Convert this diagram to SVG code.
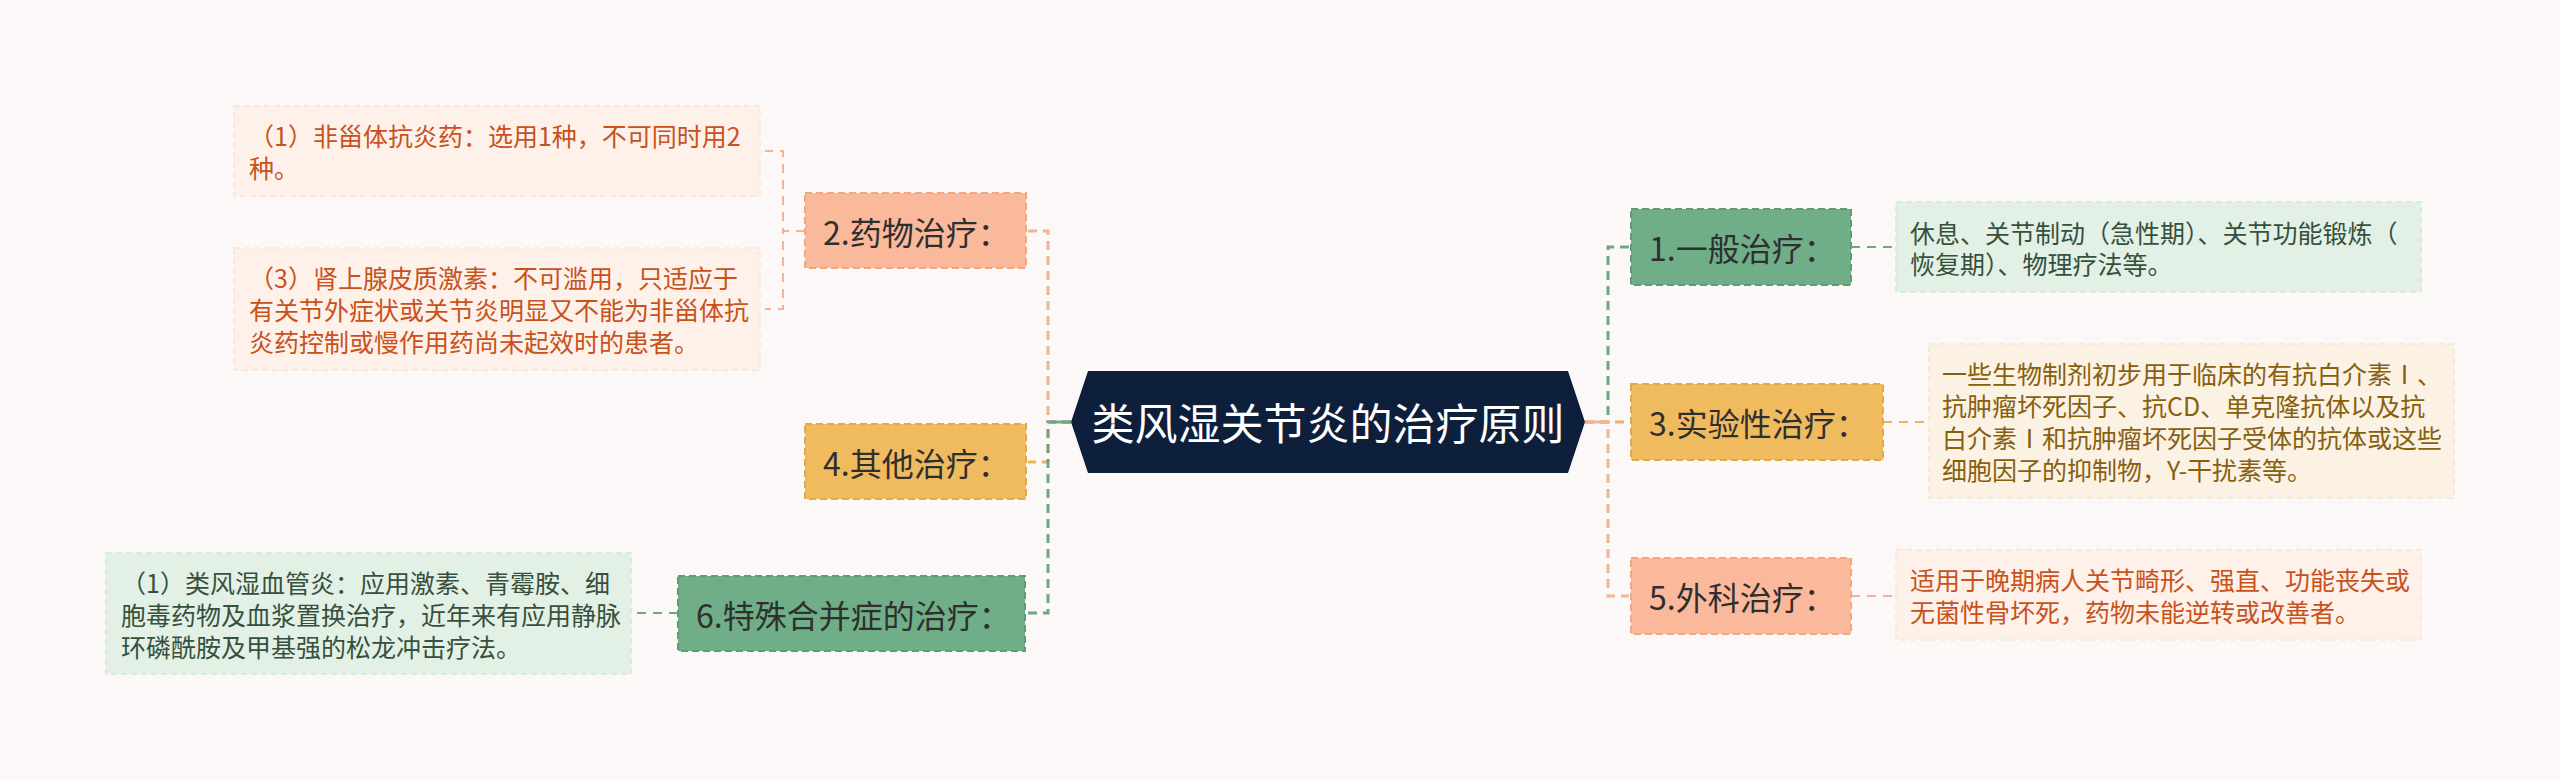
<svg xmlns="http://www.w3.org/2000/svg" width="2560" height="781" viewBox="0 0 2560 781">
<style>
text{font-family:"Noto Sans CJK SC","Noto Sans",sans-serif;dominant-baseline:central}
.main{font-size:32px;fill:#2f2f2f}
.leaf{font-size:25px}
.c-salmon{stroke:#f3b496}
.c-gold{stroke:#ebb35c}
.c-green{stroke:#6fa784}
.trunk{fill:none;stroke-width:3;stroke-dasharray:9 6}
.twig{fill:none;stroke-width:2;stroke-dasharray:9 7}
.n-salmon{fill:#fbb99b;stroke:#f4a582;stroke-width:2;stroke-dasharray:7 4}
.n-gold{fill:#f0ba5f;stroke:#e3a848;stroke-width:2;stroke-dasharray:7 4}
.n-green{fill:#70ae87;stroke:#5f9c76;stroke-width:2;stroke-dasharray:7 4}
.l-peach{fill:#fdf1e9;stroke:#fae4d6;stroke-width:1.5;stroke-dasharray:6 4}
.l-green{fill:#e2f0e6;stroke:#d3e6d9;stroke-width:1.5;stroke-dasharray:6 4}
.l-cream{fill:#fcf2e3;stroke:#f6e5cb;stroke-width:1.5;stroke-dasharray:6 4}
.t-orange{fill:#c9511b}
.t-green{fill:#36503d}
.t-brown{fill:#86600f}
</style>
<rect width="2560" height="781" fill="#fcf8f7"/>
<g id="connectors">
  <path class="trunk c-salmon" d="M1071,422 H1048 V231 H1028"/>
  <path class="trunk c-gold" d="M1071,422 H1048 V462 H1028"/>
  <path class="trunk c-green" d="M1071,422 H1048 V613 H1028"/>
  <path class="trunk c-green" d="M1585,422 H1608 V247 H1629"/>
  <path class="trunk c-gold" d="M1585,422 H1629"/>
  <path class="trunk c-salmon" d="M1585,422 H1608 V596 H1629"/>
  <path d="M1050,422 H1071" stroke="#6fa784" stroke-width="3" fill="none"/>
  <path d="M1585,422 H1606" stroke="#f3b496" stroke-width="3" fill="none"/>
  <path class="twig c-salmon" d="M805,231 H783 V151 H765"/>
  <path class="twig c-salmon" d="M805,231 H783 V309 H765"/>
  <path class="twig c-green" d="M678,613 H633"/>
  <path class="twig c-green" d="M1851,247 H1896"/>
  <path class="twig c-gold" d="M1883,422 H1929"/>
  <path class="twig c-salmon" d="M1851,596 H1896"/>
</g>
<g id="root">
  <polygon points="1071,422 1088,371 1568,371 1585,422 1568,473 1088,473" fill="#0e1f3b"/>
  <text x="1328" y="421" font-size="43" fill="#ffffff" text-anchor="middle">类风湿关节炎的治疗原则</text>
</g>
<g id="n2">
  <rect class="n-salmon" x="805" y="193" width="221" height="75"/>
  <text class="main" x="823" y="231">2.药物治疗：</text>
</g>
<g id="n4">
  <rect class="n-gold" x="805" y="424" width="221" height="75"/>
  <text class="main" x="823" y="462">4.其他治疗：</text>
</g>
<g id="n6">
  <rect class="n-green" x="678" y="576" width="347" height="75"/>
  <text class="main" x="696" y="614">6.特殊合并症的治疗：</text>
</g>
<g id="n1">
  <rect class="n-green" x="1631" y="209" width="220" height="76"/>
  <text class="main" x="1649" y="247">1.一般治疗：</text>
</g>
<g id="n3">
  <rect class="n-gold" x="1631" y="384" width="252" height="76"/>
  <text class="main" x="1649" y="422">3.实验性治疗：</text>
</g>
<g id="n5">
  <rect class="n-salmon" x="1631" y="558" width="220" height="76"/>
  <text class="main" x="1649" y="596">5.外科治疗：</text>
</g>
<g id="leaf-n2-1">
  <rect class="l-peach" x="234" y="106" width="526" height="90"/>
  <text class="leaf t-orange" x="249" y="135">（1）非甾体抗炎药：选用1种，不可同时用2</text>
  <text class="leaf t-orange" x="249" y="167">种。</text>
</g>
<g id="leaf-n2-3">
  <rect class="l-peach" x="234" y="248" width="526" height="122"/>
  <text class="leaf t-orange" x="249" y="277">（3）肾上腺皮质激素：不可滥用，只适应于</text>
  <text class="leaf t-orange" x="249" y="309">有关节外症状或关节炎明显又不能为非甾体抗</text>
  <text class="leaf t-orange" x="249" y="341">炎药控制或慢作用药尚未起效时的患者。</text>
</g>
<g id="leaf-n6">
  <rect class="l-green" x="106" y="553" width="525" height="121"/>
  <text class="leaf t-green" x="121" y="582">（1）类风湿血管炎：应用激素、青霉胺、细</text>
  <text class="leaf t-green" x="121" y="614">胞毒药物及血浆置换治疗，近年来有应用静脉</text>
  <text class="leaf t-green" x="121" y="646">环磷酰胺及甲基强的松龙冲击疗法。</text>
</g>
<g id="leaf-n1">
  <rect class="l-green" x="1896" y="202" width="525" height="90"/>
  <text class="leaf t-green" x="1910" y="232">休息、关节制动（急性期）、关节功能锻炼（</text>
  <text class="leaf t-green" x="1910" y="263">恢复期）、物理疗法等。</text>
</g>
<g id="leaf-n3">
  <rect class="l-cream" x="1929" y="344" width="525" height="154"/>
  <text class="leaf t-brown" x="1942" y="373">一些生物制剂初步用于临床的有抗白介素Ⅰ、</text>
  <text class="leaf t-brown" x="1942" y="405">抗肿瘤坏死因子、抗CD、单克隆抗体以及抗</text>
  <text class="leaf t-brown" x="1942" y="437">白介素Ⅰ和抗肿瘤坏死因子受体的抗体或这些</text>
  <text class="leaf t-brown" x="1942" y="469">细胞因子的抑制物，Y-干扰素等。</text>
</g>
<g id="leaf-n5">
  <rect class="l-peach" x="1896" y="550" width="525" height="90"/>
  <text class="leaf t-orange" x="1910" y="579">适用于晚期病人关节畸形、强直、功能丧失或</text>
  <text class="leaf t-orange" x="1910" y="611">无菌性骨坏死，药物未能逆转或改善者。</text>
</g>
</svg>
